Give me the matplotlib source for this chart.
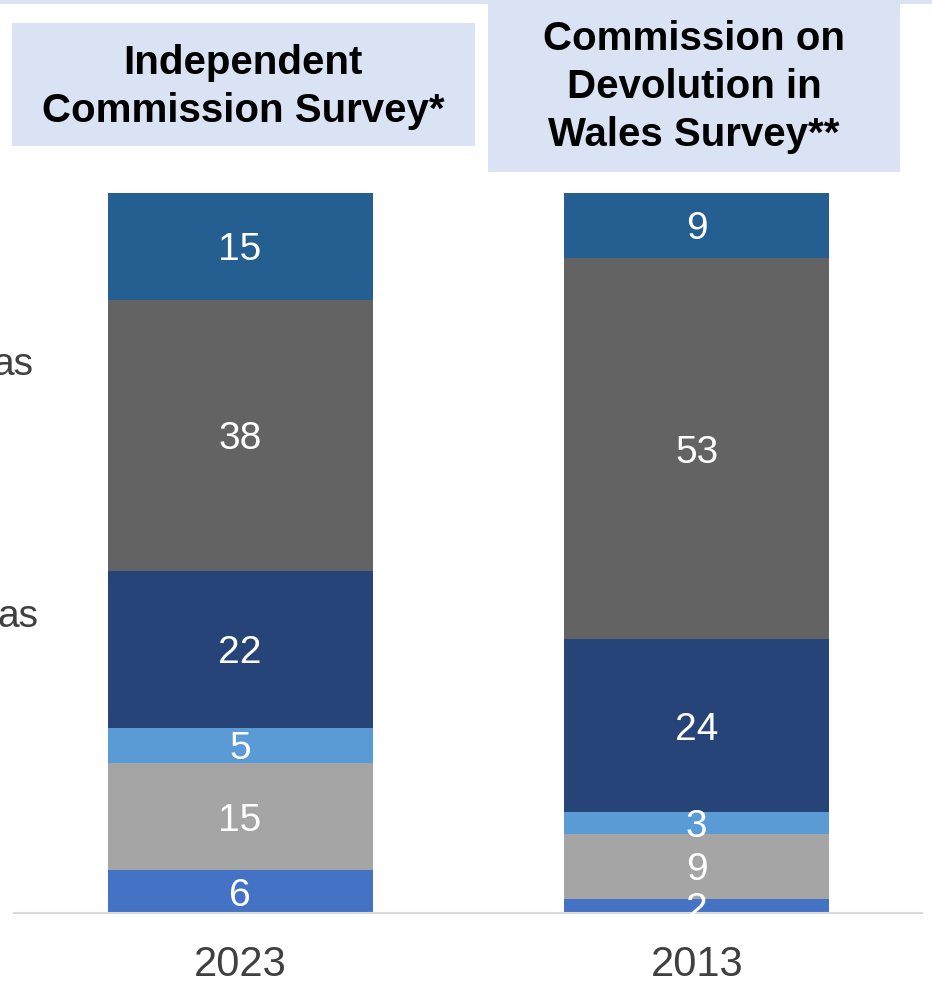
import matplotlib.pyplot as plt
from matplotlib.patches import Rectangle
import numpy as np

plt.rcParams['font.family'] = ['Liberation Sans', 'DejaVu Sans']

# data (percent, stacked bottom -> top)
years = ['2023', '2013']
seg_2023 = [6, 15, 5, 22, 38, 15]
seg_2013 = [2, 9, 3, 24, 53, 9]
seg_colors = ['#4472C4', '#A5A5A5', '#5B9BD5', '#264478', '#636363', '#255E91']
headers = ['Independent\nCommission Survey*', 'Commission on\nDevolution in\nWales Survey**']
left_labels = ['as', 'as']

W, H = 932, 983
fig = plt.figure(figsize=(W / 100, H / 100), dpi=100)

ax = fig.add_axes([14 / W, 70 / H, 908 / W, 720 / H])
data = np.array([seg_2023, seg_2013], dtype=float)
shares = data / data.sum(axis=1, keepdims=True)
x = np.arange(len(years))
bottom = np.zeros(len(years))
for i, col in enumerate(seg_colors):
    ax.bar(x, shares[:, i], bottom=bottom, width=0.58, color=col, edgecolor='none')
    for j in range(len(years)):
        ax.text(x[j], bottom[j] + shares[j, i] / 2, str(int(data[j, i])),
                ha='center', va='center_baseline', color='white', fontsize=28)
    bottom += shares[:, i]

ax.set_xlim(-0.495, 1.493)
ax.set_ylim(0, 1)
ax.set_xticks(x)
ax.set_xticklabels(years, fontsize=30, color='#404040')
ax.tick_params(axis='x', length=0, pad=23)
ax.set_yticks([])
for s in ['top', 'left', 'right']:
    ax.spines[s].set_visible(False)
ax.spines['bottom'].set_color('#D9D9D9')
ax.spines['bottom'].set_linewidth(1.5)

# header boxes (pixel coords, top-left origin)
def px_rect(x0, y0, x1, y1):
    return Rectangle((x0 / W, 1 - y1 / H), (x1 - x0) / W, (y1 - y0) / H,
                     transform=fig.transFigure, facecolor='#DAE3F3', edgecolor='none')

fig.patches.append(px_rect(0, 0, W, 4))
fig.patches.append(px_rect(12, 23, 475, 146))
fig.patches.append(px_rect(488, 2, 900, 172))
fig.text(243 / W, 1 - 87 / H, headers[0], ha='center', va='center',
         fontsize=29, fontweight='bold', linespacing=1.33)
fig.text(694 / W, 1 - 87 / H, headers[1], ha='center', va='center',
         fontsize=29, fontweight='bold', linespacing=1.33)

# clipped legend text at the left edge (cut off in the source as well)
fig.text(33 / W, 1 - 365 / H, left_labels[0], ha='right', va='center', fontsize=28, color='#404040')
fig.text(38 / W, 1 - 617 / H, left_labels[1], ha='right', va='center', fontsize=28, color='#404040')

fig.savefig('out.png', dpi=100)
